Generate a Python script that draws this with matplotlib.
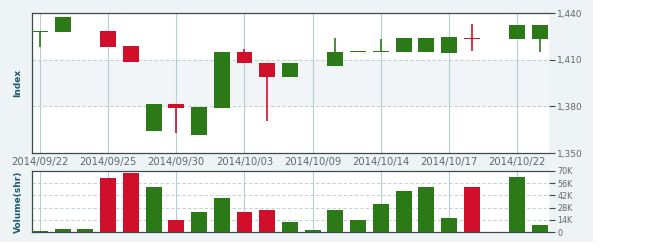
import matplotlib
matplotlib.use("Agg")
import matplotlib.pyplot as plt
from matplotlib.patches import Rectangle
import numpy as np

dates = ["2014/09/22", "2014/09/23", "2014/09/24", "2014/09/25", "2014/09/26",
         "2014/09/29", "2014/09/30", "2014/10/01", "2014/10/02", "2014/10/03",
         "2014/10/06", "2014/10/08", "2014/10/09", "2014/10/10", "2014/10/13",
         "2014/10/14", "2014/10/15", "2014/10/16", "2014/10/17", "2014/10/20",
         "2014/10/21", "2014/10/22", "2014/10/23"]
opens = [1428.0, 1428.0, 1428.2, 1428.2, 1418.6, 1364.4, 1381.3, 1361.6, 1379.1, 1414.7,
         1407.6, 1399.0, 1405.7, 1406.1, 1415.0, 1415.0, 1415.1, 1415.1, 1414.5, 1424.0,
         1423.7, 1423.5, 1423.5]
closes = [1428.0, 1437.2, 1428.2, 1418.3, 1408.5, 1381.3, 1379.1, 1379.6, 1414.7, 1407.6,
          1398.9, 1407.6, 1405.7, 1415.1, 1415.0, 1415.0, 1423.7, 1423.7, 1424.4, 1423.5,
          1423.7, 1432.1, 1432.1]
highs = [1428.0, 1437.2, 1428.2, 1428.2, 1418.6, 1381.3, 1381.3, 1379.6, 1414.7, 1416.7,
         1407.6, 1407.6, 1405.7, 1424.1, 1415.0, 1423.3, 1423.7, 1423.7, 1424.4, 1432.9,
         1423.7, 1432.1, 1432.1]
lows = [1418.3, 1428.0, 1428.2, 1418.3, 1408.5, 1364.4, 1363.0, 1361.6, 1379.1, 1407.6,
        1370.8, 1399.0, 1405.7, 1406.1, 1415.0, 1415.0, 1415.1, 1415.1, 1414.5, 1415.8,
        1423.7, 1423.5, 1414.7]
volumes_k = [1.5, 3.8, 3.8, 62.0, 67.7, 52.0, 14.0, 22.4, 39.5, 22.4,
             25.8, 11.8, 2.6, 25.8, 14.0, 32.3, 47.0, 52.0, 16.3, 52.0,
             0.0, 63.3, 8.3]
up_flags = [1, 1, 1, 0, 0, 1, 0, 1, 1, 0, 0, 1, 1, 1, 1, 1, 1, 1, 1, 0, 1, 1, 1]

price_ticks = [1350, 1380, 1410, 1440]
price_labels = ["1,350", "1,380", "1,410", "1,440"]
vol_ticks = [0, 14, 28, 42, 56, 70]
vol_labels = ["0", "14K", "28K", "42K", "56K", "70K"]

GREEN = "#2b7a17"
RED = "#d0102a"
SPINE = "#3a4a50"
TXT = "#5a6a70"
LBL = "#1f5a6e"

W, H = 650, 248
fig = plt.figure(figsize=(W / 100, H / 100), dpi=100)
fig.patch.set_facecolor("white")
fig.patches.append(Rectangle((0, 6 / H), 593 / W, 1 - 6 / H, transform=fig.transFigure,
                             facecolor="#eef3f5", edgecolor="none", zorder=-5))

left, right = 32 / W, 549 / W
ax = fig.add_axes([left, 1 - 153 / H, right - left, 140 / H])
axv = fig.add_axes([left, 1 - 232 / H, right - left, 61 / H])
ax.set_zorder(2)
axv.set_zorder(2)

n = len(dates)
x = np.arange(n)
bw = 0.7
colors = [GREEN if u else RED for u in up_flags]
xlo, xhi = -0.35, n - 1 + 0.4

ax.set_facecolor("white")
ax.axhspan(1380, 1410, color="#f1f5f7", zorder=0)
for i in range(n):
    lo_b = min(opens[i], closes[i])
    hi_b = max(opens[i], closes[i])
    ax.vlines(x[i], lows[i], highs[i], color=colors[i], lw=1.2, zorder=3)
    hgt = max(hi_b - lo_b, 0.35)
    ax.bar(x[i], hgt, bottom=lo_b, width=bw, color=colors[i], zorder=4,
           edgecolor="none")

ax.set_xlim(xlo, xhi)
ax.set_ylim(1350, 1440)
ax.set_yticks(price_ticks)
ax.set_yticklabels(price_labels)
tick_idx = list(range(0, n, 3))
ax.set_xticks(tick_idx)
ax.set_xticklabels([dates[i] for i in tick_idx])
ax.grid(axis="x", color="#b8ccd4", lw=0.8, zorder=1)
for v in [1380, 1410]:
    ax.axhline(v, color="#c5d2d8", lw=0.8, ls=(0, (3, 2)), zorder=1)

axv.set_facecolor("white")
axv.bar(x, volumes_k, width=bw, color=colors, zorder=3, edgecolor="none")
axv.set_xlim(xlo, xhi)
axv.set_ylim(0, 70)
axv.set_yticks(vol_ticks)
axv.set_yticklabels(vol_labels)
axv.set_xticks(tick_idx)
axv.set_xticklabels([])
axv.grid(axis="x", color="#b8ccd4", lw=0.8, zorder=1)
for v in [14, 28, 42, 56]:
    axv.axhline(v, color="#c5d2d8", lw=0.8, ls=(0, (3, 2)), zorder=1)

for a, ls in ((ax, 6.5), (axv, 5.8)):
    a.yaxis.tick_right()
    a.tick_params(axis="y", length=4, width=0.8, color=SPINE, labelsize=ls,
                  labelcolor=TXT, pad=2)
    a.tick_params(axis="x", length=0, labelsize=7.2, labelcolor=TXT, pad=3)
    a.spines["right"].set_visible(False)
    for s in ("left", "top", "bottom"):
        a.spines[s].set_color(SPINE)
        a.spines[s].set_linewidth(0.9)

axv.tick_params(axis="x", length=0, labelbottom=False)

fig.text(18 / W, 1 - 83 / H, "Index", rotation=90, ha="center", va="center",
         fontsize=6.5, fontweight="bold", color=LBL)
fig.text(18 / W, 1 - 202 / H, "Volume(shr)", rotation=90, ha="center", va="center",
         fontsize=6.5, fontweight="bold", color=LBL)

fig.savefig("out.png", dpi=100, facecolor=fig.get_facecolor())
